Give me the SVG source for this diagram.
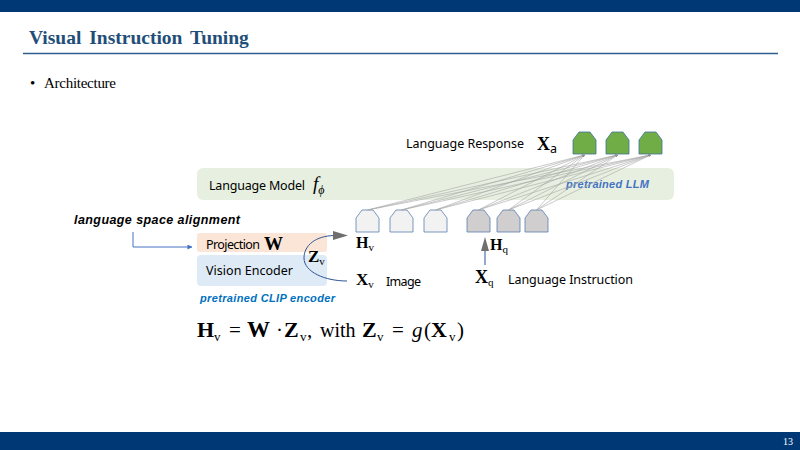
<svg xmlns="http://www.w3.org/2000/svg" width="800" height="450" viewBox="0 0 800 450">
<style>
.sans{font-family:"Noto Sans","Open Sans","Liberation Sans",sans-serif;font-size:12.5px;fill:#000}
.math{font-family:"Liberation Serif","DejaVu Serif",serif;fill:#000}
.b{font-weight:bold}
.note{font-family:"Liberation Sans",Arial,sans-serif;font-style:italic;font-weight:bold;font-size:11px}
.conn{stroke:#A6A6A6;stroke-width:0.6;fill:none}
.blue{stroke:#2F5597;stroke-width:1;fill:none}
</style>
<defs>
<path id="tok" d="M0,22 V8 L6,0 H17 L23,8 V22 Z"/>
<marker id="ah" viewBox="0 0 6 6" refX="5.5" refY="3" markerWidth="4" markerHeight="4" orient="auto"><path d="M0,0 L6,3 L0,6 Z" fill="#8C8C8C"/></marker>
<marker id="ab" viewBox="0 0 6 6" refX="5.5" refY="3" markerWidth="5" markerHeight="5" orient="auto"><path d="M0,0 L6,3 L0,6 Z" fill="#4472C4"/></marker>
</defs>
<rect x="0" y="0" width="800" height="12" fill="#003876"/>
<rect x="0" y="432" width="800" height="18" fill="#003876"/>
<text x="793" y="445" text-anchor="end" font-family="Liberation Serif,serif" font-size="10" fill="#fff">13</text>
<text x="29" y="44" font-family="Liberation Serif,serif" font-weight="bold" font-size="19.5" fill="#1F4E79" word-spacing="3">Visual Instruction Tuning</text>
<line x1="23" y1="53.5" x2="778" y2="53.5" stroke="#2E5F8E" stroke-width="1.5"/>
<text x="30" y="88" font-family="Liberation Serif,serif" font-size="15">•</text>
<text x="44" y="88" font-family="Liberation Serif,serif" font-size="15" textLength="72">Architecture</text>

<g id="language-model">
<rect x="197" y="168" width="477" height="32" rx="6" fill="#E7F0E0"/>
<text class="sans" x="209" y="190" textLength="96">Language Model</text>
<text class="math" x="313" y="190" font-style="italic" font-size="19">f<tspan font-size="12" dy="4">ϕ</tspan></text>
<text class="note" x="566" y="188" fill="#4472C4" textLength="83">pretrained LLM</text>
</g>

<g id="response">
<text class="sans" x="406" y="148" textLength="118">Language Response</text>
<text class="math b" x="537" y="150" font-size="18">X<tspan class="sans" font-weight="normal" font-size="11" dy="3">a</tspan></text>
</g>

<g id="output-tokens" fill="#70AD47" stroke="#41719C" stroke-width="0.8">
<use href="#tok" x="573" y="132"/>
<use href="#tok" x="606" y="132"/>
<use href="#tok" x="639" y="132"/>
</g>

<g id="projection">
<rect x="197" y="233" width="130" height="19" rx="3" fill="#FBE5D6"/>
<text class="sans" x="206" y="249" textLength="54">Projection</text>
<text class="math b" x="264" y="250" font-size="19">W</text>
</g>
<g id="vision-encoder">
<rect x="197" y="255" width="130" height="31" rx="4" fill="#DEEBF7"/>
<text class="sans" x="206" y="275" textLength="87">Vision Encoder</text>
<text class="note" x="200" y="302" fill="#0070C0" textLength="135">pretrained CLIP encoder</text>
</g>

<g id="visual-tokens" fill="#F2F2F2" stroke="#5B7DB0" stroke-width="0.8">
<use href="#tok" x="356" y="210"/>
<use href="#tok" x="390" y="210"/>
<use href="#tok" x="424" y="210"/>
</g>
<g id="instruction-tokens" fill="#D0CECE" stroke="#5B7DB0" stroke-width="0.8">
<use href="#tok" x="467" y="210"/>
<use href="#tok" x="497" y="210"/>
<use href="#tok" x="525" y="210"/>
</g>

<g id="connectors">
<g class="conn" marker-end="url(#ah)">
<line x1="367.5" y1="210" x2="584.5" y2="155"/><line x1="367.5" y1="210" x2="617.5" y2="155"/><line x1="367.5" y1="210" x2="650.5" y2="155"/>
<line x1="401.5" y1="210" x2="584.5" y2="155"/><line x1="401.5" y1="210" x2="617.5" y2="155"/><line x1="401.5" y1="210" x2="650.5" y2="155"/>
<line x1="435.5" y1="210" x2="584.5" y2="155"/><line x1="435.5" y1="210" x2="617.5" y2="155"/><line x1="435.5" y1="210" x2="650.5" y2="155"/>
<line x1="478.5" y1="210" x2="584.5" y2="155"/><line x1="478.5" y1="210" x2="617.5" y2="155"/><line x1="478.5" y1="210" x2="650.5" y2="155"/>
<line x1="508.5" y1="210" x2="584.5" y2="155"/><line x1="508.5" y1="210" x2="617.5" y2="155"/><line x1="508.5" y1="210" x2="650.5" y2="155"/>
<line x1="536.5" y1="210" x2="584.5" y2="155"/><line x1="536.5" y1="210" x2="617.5" y2="155"/><line x1="536.5" y1="210" x2="650.5" y2="155"/>
</g>
<polyline points="133,232 133,247 192,247" fill="none" stroke="#4472C4" stroke-width="1" marker-end="url(#ab)"/>
<path class="blue" d="M347,281 C325,281 304,272 304,258 C304,245 316,236 334,235.5"/>
<polygon points="333,231 333,240 348,235.5" fill="#6F6F6F"/>
<line class="blue" x1="485" y1="265" x2="485" y2="250"/>
<polygon points="481,251 489,251 485,237" fill="#6F6F6F"/>
</g>

<g id="alignment-label">
<text x="74" y="224" font-family="Liberation Sans,Arial,sans-serif" font-style="italic" font-weight="bold" font-size="12.5" textLength="166">language space alignment</text>
</g>

<g id="labels">
<text class="math b" x="308" y="262" font-size="17">Z<tspan font-weight="normal" font-size="11" dy="3">v</tspan></text>
<text class="math b" x="356" y="248" font-size="16">H<tspan font-weight="normal" font-size="11" dy="3">v</tspan></text>
<text class="math b" x="356" y="285" font-size="17">X<tspan font-weight="normal" font-size="11" dy="3">v</tspan></text>
<text class="sans" x="386" y="286" textLength="35">Image</text>
<text class="math b" x="490" y="250" font-size="16">H<tspan font-weight="normal" font-size="11" dy="3">q</tspan></text>
<text class="math b" x="475" y="283" font-size="18">X<tspan font-weight="normal" font-size="11" dy="3">q</tspan></text>
<text class="sans" x="508" y="284" textLength="125">Language Instruction</text>
</g>

<g id="formula" class="math" font-size="21">
<text y="337"><tspan x="197" font-weight="bold" font-size="22">H</tspan><tspan x="214" dy="4" font-size="13">v</tspan><tspan x="229" dy="-4">=</tspan><tspan x="247" font-weight="bold" font-size="23">W</tspan><tspan x="276">·</tspan><tspan x="284" font-weight="bold" font-size="22">Z</tspan><tspan x="300" dy="4" font-size="13">v</tspan><tspan x="307" dy="-4">,</tspan><tspan x="320" font-size="20">with</tspan><tspan x="362" font-weight="bold" font-size="22">Z</tspan><tspan x="377" dy="4" font-size="13">v</tspan><tspan x="392" dy="-4">=</tspan><tspan x="412" font-style="italic">g</tspan><tspan x="424">(</tspan><tspan x="431" font-weight="bold" font-size="22">X</tspan><tspan x="449" dy="4" font-size="13">v</tspan><tspan x="457" dy="-4">)</tspan></text>
</g>
</svg>
